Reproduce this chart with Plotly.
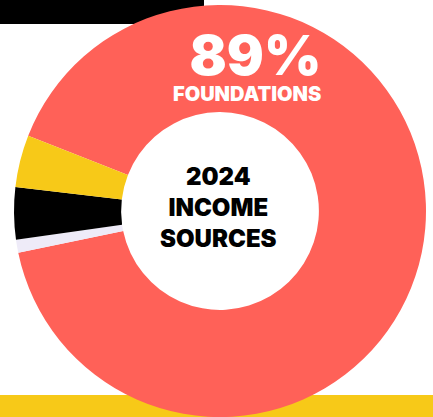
import plotly.graph_objects as go

W, H = 433, 417

labels = ["Foundations", "Other", "Individuals", "Corporate"]
values = [89, 1, 4, 4]
colors = ["#FF6158", "#EEEBF8", "#000000", "#F7C918"]

center_lines = ["2024", "INCOME", "SOURCES"]
big_pct = "89%"
big_label = "FOUNDATIONS"

FONT = "Inter"

fig = go.Figure()
fig.add_trace(go.Pie(
    labels=labels, values=values, sort=False, direction="clockwise",
    rotation=291.4, hole=0.48,
    marker=dict(colors=colors, line=dict(width=0)),
    textinfo="none", hoverinfo="label+percent", showlegend=False,
    domain=dict(x=[14 / W, 426 / W], y=[0, 1 - 5 / H]),
))

# decorative bars
fig.add_shape(type="rect", xref="paper", yref="paper",
              x0=0, x1=204 / W, y0=1 - 24 / H, y1=1.0,
              fillcolor="#000000", line=dict(width=0), layer="below")
fig.add_shape(type="rect", xref="paper", yref="paper",
              x0=0, x1=1, y0=0, y1=1 - 395 / H,
              fillcolor="#F7C918", line=dict(width=0), layer="below")

fig.add_annotation(
    text=f"<span style='font-size:55px'>{big_pct}</span><br>{big_label}",
    xref="paper", yref="paper", x=323 / W, y=1 - 108 / H,
    xanchor="right", yanchor="bottom", align="right", showarrow=False,
    font=dict(family=FONT, size=20, color="white", weight=900))

fig.add_annotation(
    text="<br>".join(center_lines),
    xref="paper", yref="paper", x=218 / W, y=1 - 207 / H,
    xanchor="center", yanchor="middle", align="center", showarrow=False,
    font=dict(family=FONT, size=24, color="black", weight=900))

fig.update_layout(width=W, height=H, margin=dict(l=0, r=0, t=0, b=0),
                  paper_bgcolor="white", plot_bgcolor="white")

fig.write_html("out.html", config={"displayModeBar": False},
               post_script="document.body.style.margin='0';")
